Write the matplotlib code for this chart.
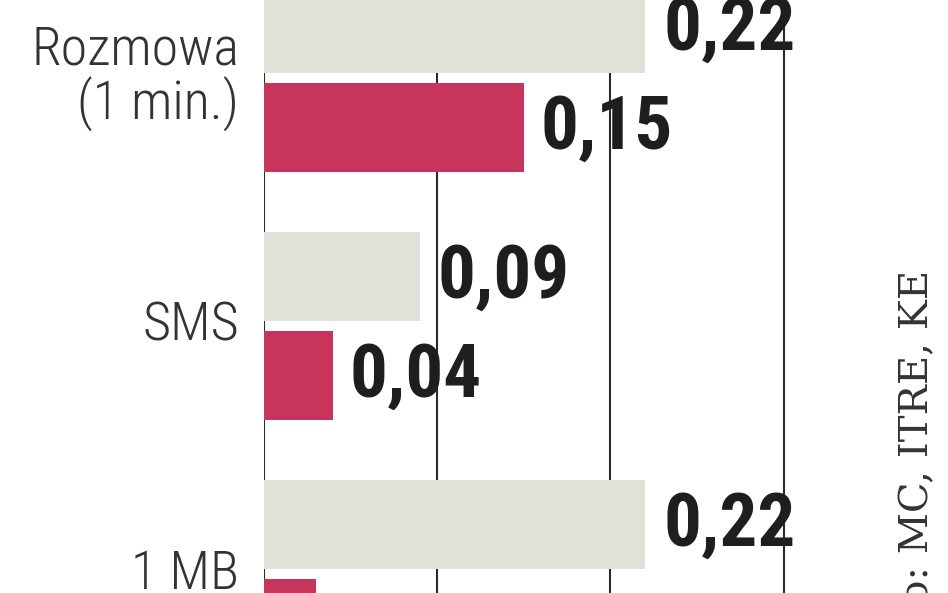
import matplotlib
matplotlib.use('Agg')
import matplotlib.pyplot as plt

# data (price per unit)
categories = ['Rozmowa\n(1 min.)', 'SMS', '1 MB']
grey_values = [0.22, 0.09, 0.22]
red_values = [0.15, 0.04, 0.03]
source = 'Źródło: MC, ITRE, KE'

GREY = '#e1e1da'
RED = '#c8345c'
NARROW = ['Roboto Condensed', 'Open Sans Condensed', 'DejaVu Sans']

fig = plt.figure(figsize=(9.48, 5.93), dpi=100)
ax = fig.add_axes([264 / 948, 0, 684 / 948, 1])

pos = list(range(len(categories)))
bar_h = 0.36
ax.barh([p - 0.2 for p in pos], grey_values, height=bar_h, color=GREY, zorder=2)
ax.barh([p + 0.2 for p in pos], red_values, height=bar_h, color=RED, zorder=2)

# value labels next to each bar
for p, v in zip(pos, grey_values):
    ax.annotate(f'{v:.2f}'.replace('.', ','), (v, p - 0.2), xytext=(13, -1),
                textcoords='offset points', va='center', ha='left',
                fontsize=54, fontweight='bold', fontstretch='condensed',
                family=NARROW, color='#1e1e1e', zorder=3)
for p, v in zip(pos, red_values):
    ax.annotate(f'{v:.2f}'.replace('.', ','), (v, p + 0.2), xytext=(12, -1),
                textcoords='offset points', va='center', ha='left',
                fontsize=54, fontweight='bold', fontstretch='condensed',
                family=NARROW, color='#1e1e1e', zorder=3)

# vertical gridlines
for gx in [0, 0.1, 0.2, 0.3]:
    ax.axvline(gx, color='#2a2a2a', lw=1.5, zorder=1)

ax.set_xlim(0, 684 / 1732)
ax.set_ylim(515 / 248, -78 / 248)
ax.set_yticks(pos)
ax.set_yticklabels(categories, fontsize=39, family=NARROW, fontstretch='condensed',
                   fontweight='light', color='#333333', linespacing=1.05, va='center')
ax.tick_params(axis='y', length=0, pad=18)
ax.set_xticks([])
for s in ax.spines.values():
    s.set_visible(False)

fig.text(915 / 948, 1 - 270 / 593, source, rotation=90, ha='center', va='top',
         fontsize=29, family='DejaVu Serif', color='#333333')

fig.savefig('out.png', dpi=100)
